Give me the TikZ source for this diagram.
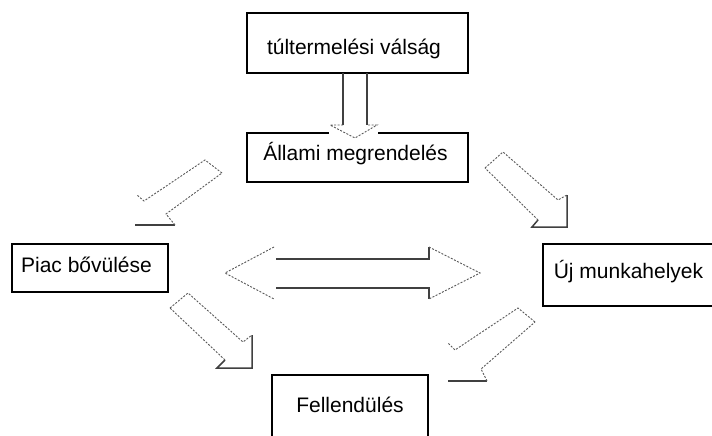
\documentclass[tikz,border=0pt]{standalone}
\usepackage{fontspec}
\setmainfont{Liberation Sans}
\begin{document}
\begin{tikzpicture}[x=1pt,y=-1pt,
  box/.style={draw=black,line width=1.3pt,rectangle,inner sep=0pt,fill=white},
  lbl/.style={anchor=base,inner sep=0pt,font=\fontsize{21}{24}\selectfont},
  solidedge/.style={draw=black!75,line width=1.5pt},
  dashedge/.style={draw=black!65,line width=0.9pt,dash pattern=on 2pt off 1.5pt}]
\clip (0,0) rectangle (712,436);
\fill[white] (0,0) rectangle (712,436);
% boxes
\node[box,minimum width=221pt,minimum height=60pt] (b1) at (357.5,43) {};
\node[box,minimum width=221pt,minimum height=49pt] (b2) at (357.5,157.5) {};
\node[box,minimum width=156pt,minimum height=48pt] (b3) at (90,268) {};
\node[box,minimum width=173pt,minimum height=62pt] (b4) at (629.5,275) {};
\node[box,minimum width=156pt,minimum height=70pt] (b5) at (350,410) {};
% texts
\node[lbl] (t1) at (354,55) {túltermelési válság};
\node[lbl] (t2) at (355.5,160) {Állami megrendelés};
\node[lbl] (t3) at (86.5,272) {Piac bővülése};
\node[lbl] (t4) at (628.5,278) {Új munkahelyek};
\node[lbl] (t5) at (350,412) {Fellendülés};
% down arrow b1 -> b2
\fill[white] (329,124) rectangle (378,139);
\draw[solidedge] (343,73) -- (343,125);
\draw[solidedge] (367,73) -- (367,125);
\draw[dashedge] (343,125) -- (330,125) -- (355,138) -- (377,125) -- (367,125);
% arrow b2 -> b3
\draw[dashedge] (222,173) -- (205,160) -- (144,201) -- (137,195);
\draw[solidedge] (135,225) -- (175,225);
\draw[dashedge] (175,225) -- (166,214) -- (222,173);
% arrow b2 -> b4
\draw[dashedge] (485,168) -- (503,152) -- (558,200) -- (567,195);
\draw[solidedge] (567,195) -- (567,227) -- (532,227) -- (538,220);
\draw[dashedge] (538,220) -- (485,168);
% arrow b3 -> b5
\draw[dashedge] (170,308) -- (188,293) -- (243,342) -- (252,335);
\draw[solidedge] (252,335) -- (252,368) -- (217,368) -- (225,360);
\draw[dashedge] (225,360) -- (170,308);
% arrow b4 -> b5
\draw[dashedge] (535,322) -- (518,308) -- (455,350) -- (448,343);
\draw[solidedge] (448,381) -- (487,381);
\draw[dashedge] (487,381) -- (481,369) -- (535,322);
% double arrow
\draw[dashedge] (274,247) -- (225,273) -- (274,299);
\draw[solidedge] (276,259) -- (429,259) -- (429,247);
\draw[solidedge] (276,288) -- (429,288) -- (429,299);
\draw[dashedge] (429,247) -- (480,273) -- (429,299);
\end{tikzpicture}
\end{document}
